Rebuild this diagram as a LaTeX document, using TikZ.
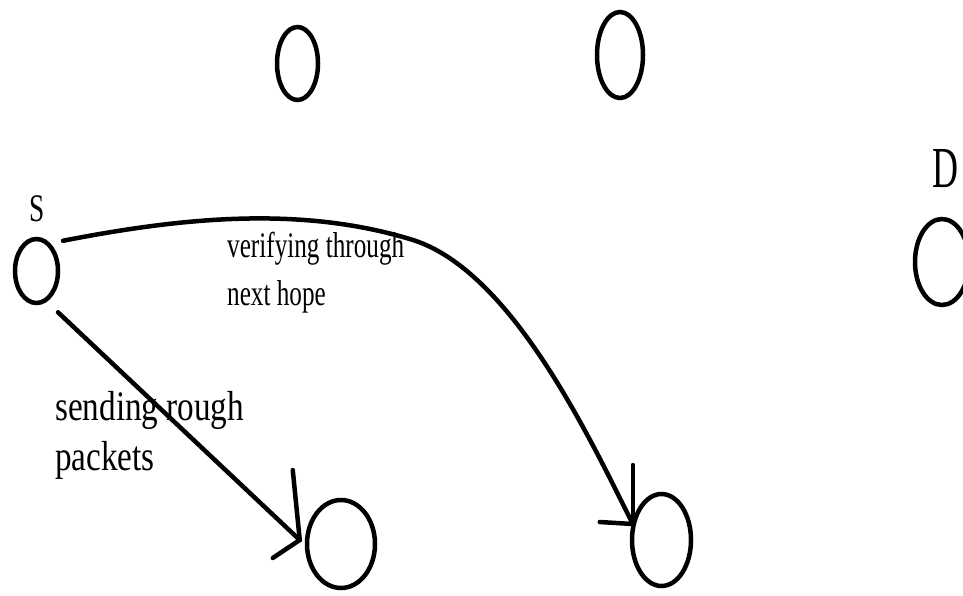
\documentclass[tikz,border=0pt]{standalone}
\usepackage{fontspec}
\setmainfont{Liberation Serif}
\newfontfamily\vfont[FakeStretch=0.70]{Liberation Serif}
\newfontfamily\sfont[FakeStretch=0.79]{Liberation Serif}
\newfontfamily\Sfont[FakeStretch=0.70]{Liberation Serif}
\newfontfamily\Dfont[FakeStretch=0.62]{Liberation Serif}
\usetikzlibrary{shapes.geometric,calc}
\begin{document}
\begin{tikzpicture}[x=1pt,y=-1pt,
  nodeell/.style={draw, ellipse, line width=4.5pt, inner sep=0pt},
  conn/.style={line width=4.5pt, line cap=round},
  barb/.style={line width=4.5pt, line cap=round},
  lbl/.style={inner sep=0pt, text=black}]
\useasboundingbox (0,0) rectangle (963,596);
% nodes
\node[nodeell, minimum width=43pt, minimum height=64pt] (S) at (36.5,271) {};
\node[nodeell, minimum width=41pt, minimum height=73pt] (T1) at (297.5,63.5) {};
\node[nodeell, minimum width=46pt, minimum height=86pt] (T2) at (620,55) {};
\node[nodeell, minimum width=54pt, minimum height=86pt] (D) at (942,262) {};
\node[nodeell, minimum width=68pt, minimum height=88pt] (B1) at (341,544) {};
\node[nodeell, minimum width=59pt, minimum height=92pt] (B2) at (661.5,540) {};
% labels
\node[lbl, anchor=base, font=\Sfont\fontsize{39}{40}\selectfont] (Slbl) at (37.5,222) {S};
\node[lbl, anchor=base, font=\Dfont\fontsize{58}{60}\selectfont] (Dlbl) at (945,187) {D};
\node[lbl, anchor=base west, align=left, font=\vfont\fontsize{36}{48}\selectfont] (vlbl) at (227,305) {verifying through\\next hope};
\node[lbl, anchor=base west, align=left, font=\sfont\fontsize{42}{50}\selectfont] (slbl) at (55,470) {sending rough\\packets};
% connector 1: straight
\coordinate (a1s) at ($(S.south)+(21.5,7)$);
\coordinate (a1t) at ($(B1.west)+(-5,-4)$);
\draw[conn] (a1s) -- (a1t);
\coordinate (a1b1) at ($(a1t)+(-7,-70)$);
\coordinate (a1b2) at ($(a1t)+(-27,18)$);
\draw[barb] (a1b1) -- (a1t) -- (a1b2);
% connector 2: curve
\coordinate (a2s) at ($(S.north)+(26.5,4)$);
\coordinate (a2t) at ($(B2.west)+(3,-16)$);
\draw[conn] (a2s) .. controls (180,218) and (300,205) .. (413,240)
  .. controls (510,271) and (586.5,431) .. (a2t);
\coordinate (a2b1) at ($(a2t)+(0,-59)$);
\coordinate (a2b2) at ($(a2t)+(-33,-2)$);
\draw[barb] (a2b1) -- (a2t);
\draw[barb] (a2b2) -- (a2t);
\end{tikzpicture}
\end{document}
